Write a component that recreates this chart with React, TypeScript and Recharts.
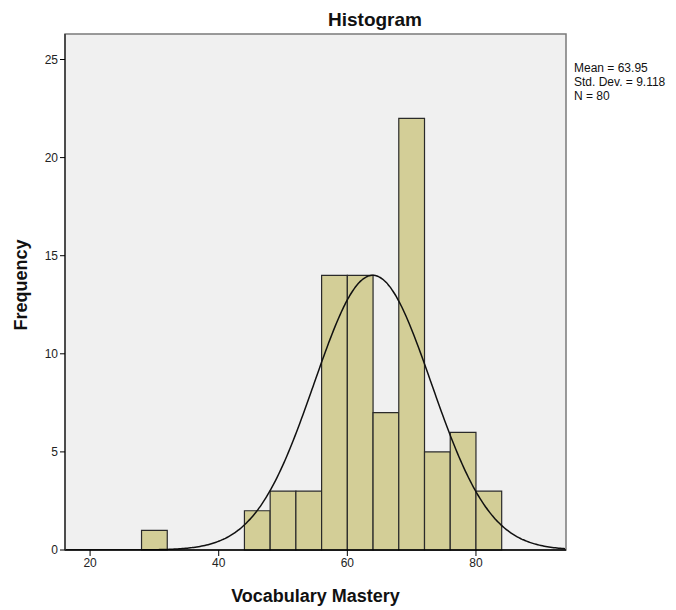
import React from "react";
import { ComposedChart, Line, XAxis, YAxis, CartesianGrid, ReferenceArea } from "recharts";

const binStarts = [28, 44, 48, 52, 56, 60, 64, 68, 72, 76, 80];
const binCounts = [1, 2, 3, 3, 14, 14, 7, 22, 5, 6, 3];
const binWidth = 4;
const xTicks = [20, 40, 60, 80];
const yTicks = [0, 5, 10, 15, 20, 25];
const mean = 63.95;
const stdDev = 9.118;
const n = 80;
const xMin = 16.1;
const xMax = 94;
const yMax = 26.3;

const curve: { x: number; y: number }[] = [];
for (let x = xMin; x <= xMax + 0.001; x += 0.25) {
  const z = (x - mean) / stdDev;
  curve.push({ x, y: (n * binWidth) / (stdDev * Math.sqrt(2 * Math.PI)) * Math.exp(-0.5 * z * z) });
}

const font = "Arial, 'Liberation Sans', sans-serif";

export default function App() {
  return (
    <div style={{ position: "absolute", left: 0, top: 0, width: 676, height: 610, background: "#fff", fontFamily: font }}>
      <ComposedChart width={676} height={610} data={curve} margin={{ top: 34, right: 110, bottom: 0, left: 0 }}>
        <CartesianGrid fill="#F0F0F0" horizontal={false} vertical={false} />
        <XAxis
          dataKey="x"
          type="number"
          domain={[xMin, xMax]}
          ticks={xTicks}
          allowDataOverflow
          height={60}
          tickSize={6}
          axisLine={{ stroke: "#000", strokeWidth: 1.5 }}
          tickLine={{ stroke: "#000" }}
          tick={{ fill: "#222", fontSize: 12, fontFamily: font }}
        />
        <YAxis
          type="number"
          domain={[0, yMax]}
          ticks={yTicks}
          allowDataOverflow
          width={65}
          tickSize={5}
          axisLine={{ stroke: "#333", strokeWidth: 1.5 }}
          tickLine={{ stroke: "#000" }}
          tick={{ fill: "#222", fontSize: 12, fontFamily: font }}
        />
        <ReferenceArea x1={xMin} x2={xMax} y1={0} y2={yMax} fill="none" stroke="#7a7a7a" strokeWidth={1.5} ifOverflow="extendDomain" />
        {binStarts.map((s, i) => (
          <ReferenceArea
            key={s}
            x1={s}
            x2={s + binWidth}
            y1={0}
            y2={binCounts[i]}
            fill="#D3CE97"
            fillOpacity={1}
            stroke="#2a2a2a"
            strokeWidth={1.2}
            strokeOpacity={1}
          />
        ))}
        <Line dataKey="y" type="monotone" stroke="#111" strokeWidth={1.5} dot={false} isAnimationActive={false} />
      </ComposedChart>
      <div style={{ position: "absolute", left: 275, top: 9, width: 200, textAlign: "center", fontSize: 19, lineHeight: "22px", fontWeight: "bold", color: "#111" }}>Histogram</div>
      <div style={{ position: "absolute", left: 574, top: 61, fontSize: 12, lineHeight: "14px", color: "#111" }}>
        <div>Mean = 63.95</div>
        <div>Std. Dev. = 9.118</div>
        <div>N = 80</div>
      </div>
      <div style={{ position: "absolute", left: 0, top: 586, width: 631, textAlign: "center", fontSize: 18, lineHeight: "21px", fontWeight: "bold", color: "#111" }}>Vocabulary Mastery</div>
      <div style={{ position: "absolute", left: 21, top: 285, transform: "translate(-50%, -50%) rotate(-90deg)", fontSize: 18, fontWeight: "bold", color: "#111", whiteSpace: "nowrap" }}>Frequency</div>
    </div>
  );
}
